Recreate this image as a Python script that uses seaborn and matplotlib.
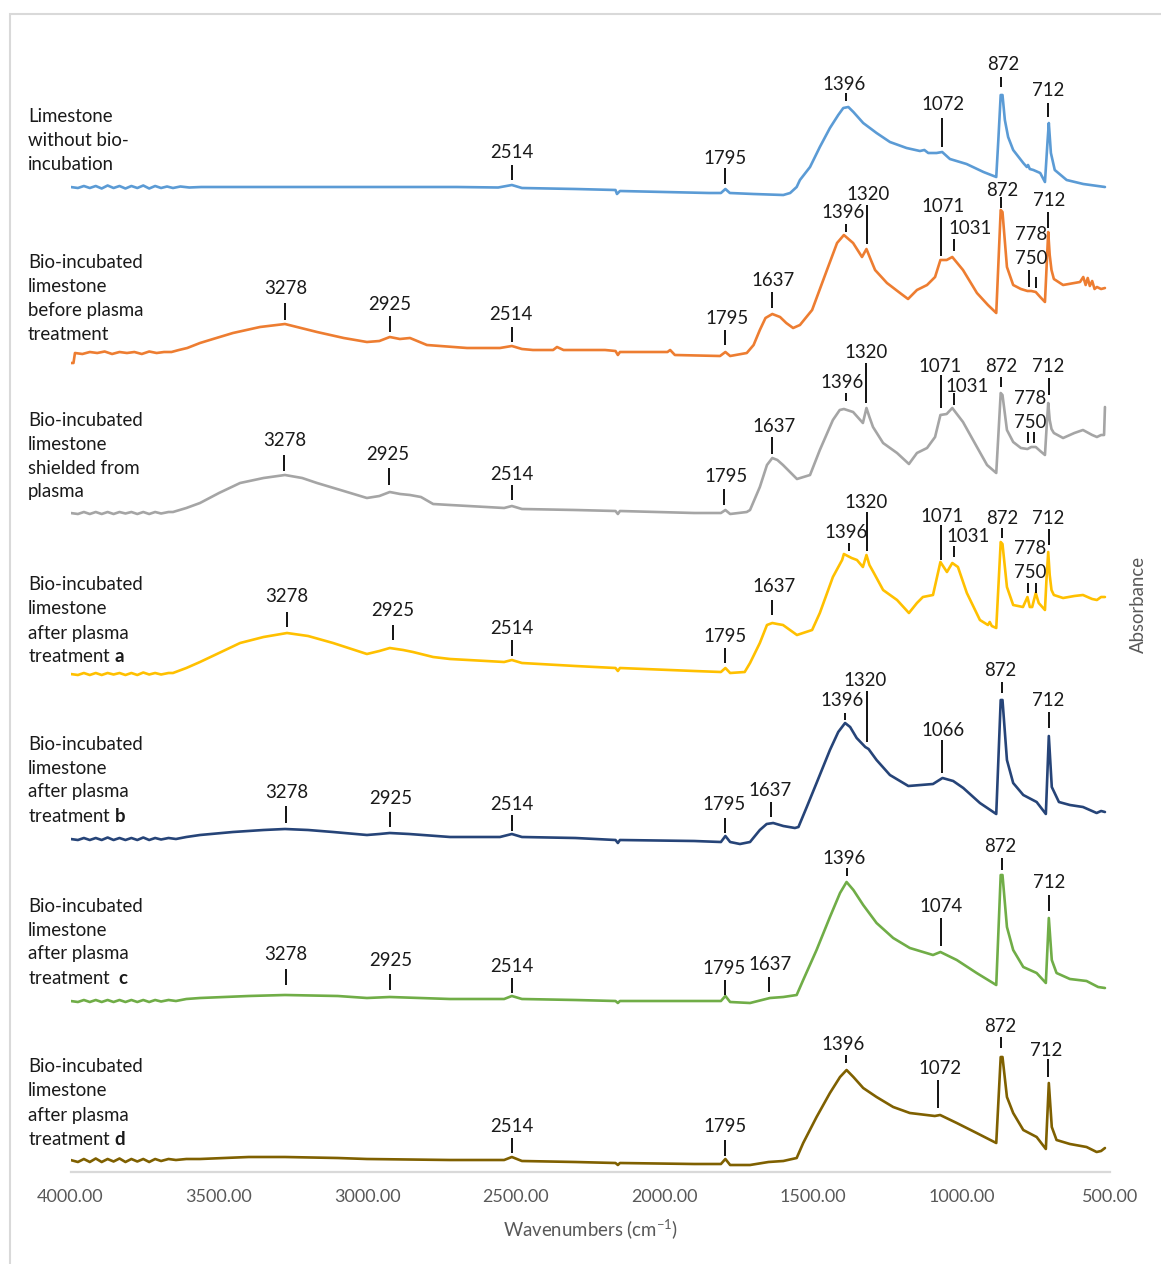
import numpy as np
import pandas as pd
import matplotlib
matplotlib.use("Agg")
import matplotlib.pyplot as plt
from matplotlib.patches import Rectangle
import seaborn as sns

# ---------------- data ----------------
samples = ["Limestone without bio-incubation",
           "Bio-incubated limestone before plasma treatment",
           "Bio-incubated limestone shielded from plasma",
           "Bio-incubated limestone after plasma treatment a",
           "Bio-incubated limestone after plasma treatment b",
           "Bio-incubated limestone after plasma treatment c",
           "Bio-incubated limestone after plasma treatment d"]

label_lines = [
    ["Limestone", "without bio-", "incubation"],
    ["Bio-incubated", "limestone", "before plasma", "treatment"],
    ["Bio-incubated", "limestone", "shielded from", "plasma"],
    ["Bio-incubated", "limestone", "after plasma", r"treatment $\mathbf{a}$"],
    ["Bio-incubated", "limestone", "after plasma", r"treatment $\mathbf{b}$"],
    ["Bio-incubated", "limestone", "after plasma", r"treatment  $\mathbf{c}$"],
    ["Bio-incubated", "limestone", "after plasma", r"treatment $\mathbf{d}$"],
]

colors = ["#5B9BD5", "#ED7D31", "#A5A5A5", "#FFC000", "#264478", "#70AD47", "#7F6000"]
offsets = [9.82, 8.17, 6.57, 4.97, 3.32, 1.70, 0.07]

wn_blue = [4000, 3975, 3955, 3935, 3915, 3895, 3875, 3855, 3835, 3815, 3795, 3775, 3755, 3735,
           3715, 3695, 3675, 3655, 3630, 3600, 3560, 3400, 3000, 2700, 2560, 2514, 2480, 2300,
           2165, 2160, 2150, 2000, 1850, 1810, 1795, 1780, 1700, 1600, 1577, 1555, 1544, 1510,
           1477, 1443, 1415, 1398, 1381, 1364, 1331, 1286, 1241, 1185, 1140, 1125, 1112, 1084,
           1065, 1039, 983, 926, 883, 876, 868, 862, 854, 843, 826, 792, 780, 776, 770, 758, 735,
           719, 710, 706, 699, 686, 646, 590, 517]
abs_blue = [0.03, 0.02, 0.04, 0.02, 0.04, 0.015, 0.045, 0.02, 0.04, 0.015, 0.04, 0.02, 0.045,
            0.015, 0.04, 0.02, 0.035, 0.02, 0.035, 0.025, 0.03, 0.03, 0.03, 0.03, 0.025, 0.05,
            0.02, 0.01, 0.0, -0.04, -0.01, -0.02, -0.03, -0.03, 0.01, -0.03, -0.04, -0.05, -0.03,
            0.03, 0.10, 0.23, 0.43, 0.62, 0.75, 0.82, 0.83, 0.78, 0.67, 0.57, 0.48, 0.42, 0.39,
            0.40, 0.37, 0.37, 0.38, 0.31, 0.26, 0.18, 0.13, 0.50, 0.95, 0.95, 0.70, 0.53, 0.40,
            0.27, 0.23, 0.25, 0.21, 0.20, 0.17, 0.08, 0.50, 0.67, 0.37, 0.20, 0.10, 0.06, 0.03]

wn_orange = [4000, 3990, 3985, 3960, 3935, 3910, 3885, 3860, 3835, 3810, 3785, 3760, 3735, 3710,
             3685, 3660, 3635, 3607, 3564, 3520, 3453, 3362, 3278, 3170, 3080, 3002, 2960, 2925,
             2891, 2857, 2800, 2665, 2554, 2514, 2480, 2443, 2375, 2362, 2340, 2200, 2165, 2157,
             2150, 2106, 1990, 1981, 1965, 1813, 1795, 1779, 1723, 1700, 1679, 1660, 1637, 1611,
             1590, 1567, 1544, 1503, 1453, 1419, 1396, 1365, 1335, 1320, 1305, 1291, 1251, 1207,
             1180, 1150, 1116, 1089, 1071, 1050, 1031, 995, 948, 911, 883, 868, 862, 847, 826,
             800, 778, 765, 750, 735, 719, 714, 708, 703, 697, 689, 658, 620, 601, 590, 582, 575,
             568, 560, 552, 544, 530, 517]
abs_orange = [-0.08, -0.08, 0.02, 0.01, 0.03, 0.02, 0.035, 0.01, 0.03, 0.02, 0.03, 0.01, 0.035,
              0.02, 0.03, 0.03, 0.05, 0.07, 0.12, 0.16, 0.22, 0.28, 0.31, 0.23, 0.17, 0.13, 0.14,
              0.18, 0.16, 0.17, 0.10, 0.07, 0.07, 0.09, 0.06, 0.05, 0.05, 0.08, 0.05, 0.05, 0.04,
              0.00, 0.03, 0.03, 0.03, 0.05, 0.00, -0.01, 0.03, -0.01, 0.02, 0.10, 0.25, 0.37, 0.41,
              0.38, 0.32, 0.27, 0.30, 0.45, 0.85, 1.12, 1.20, 1.12, 0.98, 1.06, 0.95, 0.85, 0.72,
              0.62, 0.56, 0.65, 0.70, 0.78, 0.95, 0.95, 0.98, 0.85, 0.62, 0.50, 0.42, 1.45, 1.43,
              0.88, 0.70, 0.66, 0.64, 0.64, 0.63, 0.58, 0.53, 0.85, 1.23, 1.00, 0.85, 0.76, 0.70,
              0.72, 0.73, 0.78, 0.70, 0.77, 0.69, 0.74, 0.66, 0.68, 0.66, 0.67]

wn_gray = [4000, 3975, 3955, 3935, 3915, 3895, 3875, 3855, 3835, 3815, 3795, 3775, 3755, 3735,
           3715, 3695, 3670, 3655, 3610, 3564, 3500, 3429, 3350, 3278, 3220, 3170, 3080, 3002,
           2960, 2925, 2890, 2857, 2820, 2779, 2722, 2600, 2540, 2514, 2480, 2300, 2165, 2157,
           2150, 1900, 1810, 1795, 1779, 1723, 1712, 1679, 1655, 1637, 1620, 1601, 1554, 1510,
           1477, 1433, 1410, 1396, 1365, 1332, 1320, 1310, 1298, 1264, 1217, 1177, 1150, 1116,
           1089, 1071, 1050, 1031, 995, 948, 914, 883, 868, 862, 847, 826, 800, 778, 765, 750,
           735, 719, 714, 708, 703, 697, 689, 658, 620, 591, 560, 544, 530, 520, 517]
abs_gray = [0.02, 0.01, 0.03, 0.01, 0.03, 0.01, 0.03, 0.01, 0.03, 0.015, 0.03, 0.01, 0.03, 0.01,
            0.03, 0.015, 0.03, 0.03, 0.07, 0.12, 0.22, 0.32, 0.37, 0.40, 0.37, 0.32, 0.24, 0.17,
            0.19, 0.23, 0.21, 0.20, 0.18, 0.11, 0.10, 0.08, 0.07, 0.09, 0.06, 0.05, 0.04, 0.01,
            0.04, 0.02, 0.02, 0.05, 0.01, 0.03, 0.05, 0.28, 0.50, 0.57, 0.55, 0.50, 0.36, 0.40,
            0.65, 0.95, 1.05, 1.06, 1.03, 0.92, 1.07, 0.98, 0.88, 0.72, 0.62, 0.51, 0.62, 0.67,
            0.78, 1.00, 1.01, 1.07, 0.93, 0.68, 0.50, 0.42, 1.22, 1.20, 0.85, 0.73, 0.67, 0.66,
            0.68, 0.68, 0.64, 0.60, 0.85, 1.12, 0.95, 0.86, 0.82, 0.77, 0.82, 0.85, 0.80, 0.78,
            0.80, 0.80, 1.08]

wn_yellow = [4000, 3975, 3955, 3935, 3915, 3895, 3875, 3855, 3835, 3815, 3795, 3775, 3755, 3735,
             3715, 3695, 3670, 3655, 3610, 3564, 3500, 3429, 3350, 3271, 3200, 3116, 3002, 2960,
             2925, 2880, 2847, 2779, 2722, 2600, 2540, 2514, 2480, 2300, 2165, 2157, 2150, 1900,
             1810, 1795, 1779, 1730, 1712, 1679, 1655, 1637, 1620, 1601, 1554, 1503, 1477, 1433,
             1402, 1396, 1370, 1352, 1332, 1320, 1310, 1295, 1264, 1217, 1177, 1150, 1130, 1096,
             1071, 1049, 1031, 1012, 982, 938, 911, 905, 898, 883, 868, 862, 847, 826, 793, 778,
             770, 762, 750, 740, 719, 714, 708, 703, 697, 689, 658, 620, 591, 560, 544, 530, 517]
abs_yellow = [0.01, 0.0, 0.02, 0.0, 0.02, 0.0, 0.02, 0.005, 0.02, 0.0, 0.02, 0.0, 0.025, 0.005,
              0.02, 0.005, 0.02, 0.02, 0.07, 0.13, 0.22, 0.32, 0.38, 0.42, 0.39, 0.32, 0.21, 0.24,
              0.27, 0.25, 0.23, 0.18, 0.16, 0.14, 0.13, 0.15, 0.12, 0.09, 0.07, 0.04, 0.07, 0.04,
              0.03, 0.07, 0.02, 0.03, 0.12, 0.32, 0.50, 0.52, 0.51, 0.50, 0.40, 0.45, 0.62, 0.98,
              1.15, 1.21, 1.17, 1.15, 1.08, 1.20, 1.10, 1.02, 0.85, 0.75, 0.62, 0.72, 0.78, 0.80,
              1.13, 1.03, 1.12, 1.08, 0.82, 0.55, 0.50, 0.53, 0.49, 0.47, 1.33, 1.31, 0.88, 0.70,
              0.68, 0.78, 0.68, 0.68, 0.82, 0.72, 0.65, 0.95, 1.23, 1.00, 0.85, 0.80, 0.77, 0.79,
              0.80, 0.76, 0.75, 0.78, 0.78]

wn_navy = [4000, 3975, 3955, 3935, 3915, 3895, 3875, 3855, 3835, 3815, 3795, 3775, 3755, 3735,
           3715, 3695, 3670, 3645, 3610, 3564, 3453, 3350, 3278, 3200, 3116, 3002, 2960, 2925,
           2860, 2722, 2554, 2514, 2480, 2300, 2165, 2157, 2150, 1900, 1810, 1795, 1779, 1746,
           1712, 1679, 1656, 1634, 1600, 1561, 1549, 1521, 1488, 1443, 1415, 1392, 1375, 1353,
           1324, 1313, 1286, 1241, 1179, 1096, 1064, 1028, 994, 938, 883, 868, 862, 847, 826,
           792, 747, 716, 706, 696, 672, 635, 591, 545, 530, 517]
abs_navy = [0.01, 0.0, 0.02, 0.0, 0.02, 0.0, 0.025, 0.0, 0.02, 0.0, 0.02, 0.0, 0.025, 0.0, 0.02,
            0.005, 0.02, 0.01, 0.03, 0.05, 0.08, 0.10, 0.11, 0.10, 0.08, 0.05, 0.06, 0.07, 0.06,
            0.03, 0.03, 0.06, 0.03, 0.02, 0.00, -0.03, 0.00, -0.01, -0.02, 0.04, -0.02, -0.04,
            -0.02, 0.10, 0.16, 0.17, 0.14, 0.12, 0.13, 0.33, 0.57, 0.90, 1.08, 1.17, 1.13, 1.02,
            0.93, 0.91, 0.80, 0.65, 0.54, 0.56, 0.62, 0.59, 0.52, 0.37, 0.26, 1.40, 1.40, 0.80,
            0.57, 0.45, 0.38, 0.26, 1.04, 0.53, 0.38, 0.35, 0.33, 0.27, 0.29, 0.28]

wn_green = [4000, 3975, 3955, 3935, 3915, 3895, 3875, 3855, 3835, 3815, 3795, 3775, 3755, 3735,
            3715, 3695, 3670, 3645, 3610, 3564, 3400, 3278, 3100, 3002, 2925, 2722, 2540, 2514,
            2480, 2300, 2165, 2157, 2150, 1900, 1810, 1795, 1779, 1712, 1645, 1600, 1555, 1533,
            1488, 1443, 1409, 1387, 1364, 1331, 1286, 1230, 1174, 1096, 1071, 1016, 949, 883,
            868, 862, 847, 826, 792, 747, 716, 706, 696, 680, 635, 579, 540, 517]
abs_green = [0.01, 0.0, 0.02, 0.0, 0.02, 0.0, 0.02, 0.0, 0.02, 0.0, 0.02, 0.0, 0.02, 0.0, 0.02,
             0.005, 0.02, 0.01, 0.03, 0.04, 0.06, 0.07, 0.06, 0.04, 0.05, 0.03, 0.03, 0.06, 0.03,
             0.02, 0.01, -0.01, 0.01, 0.01, 0.01, 0.06, 0.00, -0.01, 0.04, 0.05, 0.07, 0.22, 0.52,
             0.85, 1.09, 1.20, 1.12, 0.97, 0.79, 0.64, 0.54, 0.47, 0.50, 0.42, 0.29, 0.17, 1.27,
             1.27, 0.75, 0.52, 0.35, 0.29, 0.19, 0.84, 0.42, 0.29, 0.23, 0.21, 0.15, 0.14]

wn_brown = [4000, 3975, 3955, 3935, 3915, 3895, 3875, 3855, 3835, 3815, 3795, 3775, 3755, 3735,
            3715, 3695, 3670, 3645, 3610, 3564, 3400, 3278, 3100, 3002, 2722, 2540, 2514, 2480,
            2300, 2165, 2157, 2150, 1900, 1810, 1795, 1779, 1712, 1650, 1600, 1555, 1533, 1488,
            1443, 1409, 1387, 1364, 1331, 1286, 1230, 1174, 1090, 1072, 1016, 949, 883, 868, 862,
            847, 826, 792, 747, 716, 706, 696, 680, 635, 579, 545, 530, 517]
abs_brown = [0.05, 0.03, 0.06, 0.03, 0.065, 0.03, 0.06, 0.035, 0.065, 0.03, 0.06, 0.035, 0.06,
             0.03, 0.06, 0.04, 0.06, 0.05, 0.06, 0.06, 0.08, 0.08, 0.07, 0.06, 0.05, 0.05, 0.08,
             0.04, 0.03, 0.02, 0.00, 0.02, 0.01, 0.01, 0.06, 0.00, 0.00, 0.03, 0.04, 0.07, 0.22,
             0.48, 0.72, 0.88, 0.95, 0.88, 0.77, 0.68, 0.58, 0.52, 0.49, 0.50, 0.42, 0.32, 0.22,
             1.08, 1.08, 0.68, 0.52, 0.35, 0.28, 0.16, 0.82, 0.38, 0.25, 0.21, 0.18, 0.13, 0.14,
             0.17]

wavenumbers = [wn_blue, wn_orange, wn_gray, wn_yellow, wn_navy, wn_green, wn_brown]
absorbances = [abs_blue, abs_orange, abs_gray, abs_yellow, abs_navy, abs_green, abs_brown]

# peak annotations: (label, tick wavenumber, tick bottom, tick top, text wavenumber, text y)
peaks_blue = [("2514", 2514, 9.92, 10.07, 2514, 10.19), ("1795", 1795, 9.88, 10.04, 1795, 10.14),
              ("1396", 1389, 10.71, 10.79, 1396, 10.88), ("1072", 1066, 10.25, 10.54, 1062, 10.67),
              ("872", 868, 10.85, 10.95, 859, 11.07), ("712", 709, 10.55, 10.69, 708, 10.81)]
peaks_orange = [("3278", 3278, 8.52, 8.69, 3275, 8.83), ("2925", 2925, 8.40, 8.56, 2925, 8.68),
                ("2514", 2514, 8.30, 8.45, 2517, 8.58), ("1795", 1795, 8.27, 8.42, 1791, 8.54),
                ("1637", 1637, 8.64, 8.80, 1635, 8.92), ("1396", 1389, 9.40, 9.48, 1399, 9.59),
                ("1320", 1318, 9.28, 9.67, 1315, 9.78), ("1071", 1068, 9.16, 9.55, 1062, 9.65),
                ("1031", 1025, 9.21, 9.33, 971, 9.44), ("872", 866, 9.64, 9.75, 862, 9.82),
                ("712", 709, 9.44, 9.60, 706, 9.72), ("778", 773, 8.85, 9.02, 766, 9.37),
                ("750", 749, 8.84, 8.95, 766, 9.13)]
peaks_gray = [("3278", 3282, 7.01, 7.17, 3278, 7.31), ("2925", 2928, 6.87, 7.04, 2931, 7.17),
              ("2514", 2513, 6.72, 6.87, 2513, 6.98), ("1795", 1799, 6.67, 6.83, 1793, 6.95),
              ("1637", 1638, 7.18, 7.35, 1632, 7.46), ("1396", 1389, 7.71, 7.79, 1402, 7.90),
              ("1320", 1321, 7.69, 8.09, 1321, 8.19), ("1071", 1069, 7.64, 7.97, 1072, 8.06),
              ("1031", 1025, 7.67, 7.79, 982, 7.86), ("872", 868, 7.85, 7.95, 867, 8.05),
              ("712", 706, 7.77, 7.94, 709, 8.05), ("778", 776, 7.29, 7.40, 769, 7.74),
              ("750", 756, 7.29, 7.40, 769, 7.50)]
peaks_yellow = [("3278", 3271, 5.45, 5.60, 3271, 5.75), ("2925", 2915, 5.32, 5.47, 2915, 5.62),
                ("2514", 2513, 5.16, 5.32, 2513, 5.44), ("1795", 1796, 5.09, 5.24, 1796, 5.36),
                ("1637", 1638, 5.57, 5.72, 1632, 5.85), ("1396", 1379, 6.21, 6.29, 1389, 6.40),
                ("1320", 1318, 6.21, 6.60, 1321, 6.70), ("1071", 1069, 6.12, 6.47, 1065, 6.56),
                ("1031", 1025, 6.15, 6.26, 978, 6.35), ("872", 864, 6.34, 6.44, 864, 6.54),
                ("712", 706, 6.27, 6.43, 709, 6.54), ("778", 776, 5.79, 5.89, 769, 6.23),
                ("750", 749, 5.79, 5.89, 769, 5.99)]
peaks_navy = [("3278", 3275, 3.49, 3.66, 3271, 3.79), ("2925", 2925, 3.45, 3.60, 2921, 3.74),
              ("2514", 2513, 3.41, 3.57, 2513, 3.68), ("1795", 1796, 3.39, 3.54, 1799, 3.67),
              ("1637", 1641, 3.55, 3.70, 1645, 3.82), ("1396", 1392, 4.52, 4.59, 1402, 4.71),
              ("1320", 1318, 4.30, 4.81, 1325, 4.92), ("1066", 1066, 3.99, 4.32, 1062, 4.42),
              ("872", 864, 4.79, 4.90, 870, 5.01), ("712", 706, 4.44, 4.60, 709, 4.72)]
peaks_green = [("3278", 3275, 1.87, 2.03, 3275, 2.17), ("2925", 2925, 1.82, 1.98, 2921, 2.12),
               ("2514", 2513, 1.79, 1.94, 2513, 2.06), ("1795", 1796, 1.77, 1.92, 1799, 2.04),
               ("1637", 1648, 1.80, 1.95, 1645, 2.08), ("1396", 1386, 2.96, 3.04, 1396, 3.14),
               ("1074", 1069, 2.26, 2.54, 1069, 2.66), ("872", 864, 3.02, 3.14, 870, 3.26),
               ("712", 706, 2.61, 2.77, 706, 2.89)]
peaks_brown = [("2514", 2513, 0.19, 0.34, 2513, 0.46), ("1795", 1796, 0.16, 0.32, 1796, 0.45),
               ("1396", 1389, 1.09, 1.17, 1399, 1.27), ("1072", 1079, 0.64, 0.92, 1072, 1.04),
               ("872", 867, 1.24, 1.35, 870, 1.46), ("712", 709, 0.95, 1.13, 716, 1.22)]
peaks = [peaks_blue, peaks_orange, peaks_gray, peaks_yellow, peaks_navy, peaks_green, peaks_brown]
label_first_line_y = [10.56, 9.10, 7.52, 5.87, 4.28, 2.66, 1.05]

xticks = [4000, 3500, 3000, 2500, 2000, 1500, 1000, 500]

# ---------------- figure ----------------
sns.set_theme(style="white")
plt.rcParams["font.family"] = ["Lato", "DejaVu Sans"]
plt.rcParams["mathtext.fontset"] = "custom"
plt.rcParams["mathtext.rm"] = "Lato"
plt.rcParams["mathtext.it"] = "Lato:italic"
plt.rcParams["mathtext.bf"] = "Lato:bold"

W, H = 1161, 1264
fig = plt.figure(figsize=(W / 100, H / 100), dpi=100)
ax = fig.add_axes([70.5 / W, (H - 1172) / H, (1110 - 70.5) / W, (1172 - 14) / H])

frames = []
for name, wn, ab, off in zip(samples, wavenumbers, absorbances, offsets):
    frames.append(pd.DataFrame({"wavenumber": wn,
                                "absorbance": np.asarray(ab) + off,
                                "sample": name}))
df = pd.concat(frames, ignore_index=True)

sns.lineplot(data=df, x="wavenumber", y="absorbance", hue="sample", hue_order=samples,
             palette=colors, estimator=None, sort=False, legend=False, linewidth=1.9, ax=ax)
for ln in ax.get_lines():
    ln.set_solid_joinstyle("round")

fs = 13.4
for plist in peaks:
    for lab, xw, y0, y1, tx, ty in plist:
        ax.plot([xw, xw], [y0, y1], color="black", lw=1.3, solid_capstyle="butt")
        ax.text(tx, ty, lab, ha="center", va="center", fontsize=fs, color="#1a1a1a")

for lines, y in zip(label_lines, label_first_line_y):
    for i, line in enumerate(lines):
        ax.text(4143, y - 0.24 * i, line, ha="left", va="center", fontsize=fs,
                color="#1a1a1a", clip_on=False)

ax.set_xlim(4000, 500)
ax.set_ylim(0, 11.58)
ax.set_xticks(xticks)
ax.set_xticklabels([f"{t:.2f}" for t in xticks])
ax.set_yticks([])
ax.tick_params(axis="x", length=0, pad=12, labelsize=13, labelcolor="#595959")
for s in ["top", "left", "right"]:
    ax.spines[s].set_visible(False)
ax.spines["bottom"].set_color("#D9D9D9")
ax.spines["bottom"].set_linewidth(1.6)
ax.set_xlabel(r"Wavenumbers (cm$^{-1}$)", fontsize=fs, color="#595959", labelpad=9)
ax.set_ylabel("Absorbance", fontsize=fs, color="#595959")
ax.yaxis.set_label_position("right")
ax.yaxis.set_label_coords(1.019, 0.49)
ax.patch.set_alpha(0)

fig.patches.append(Rectangle((10 / W, -0.01), 1.02, 1 - 14 / H + 0.01,
                             transform=fig.transFigure, fill=False,
                             edgecolor="#D9D9D9", linewidth=1.5))

fig.savefig("out.png", dpi=100)
